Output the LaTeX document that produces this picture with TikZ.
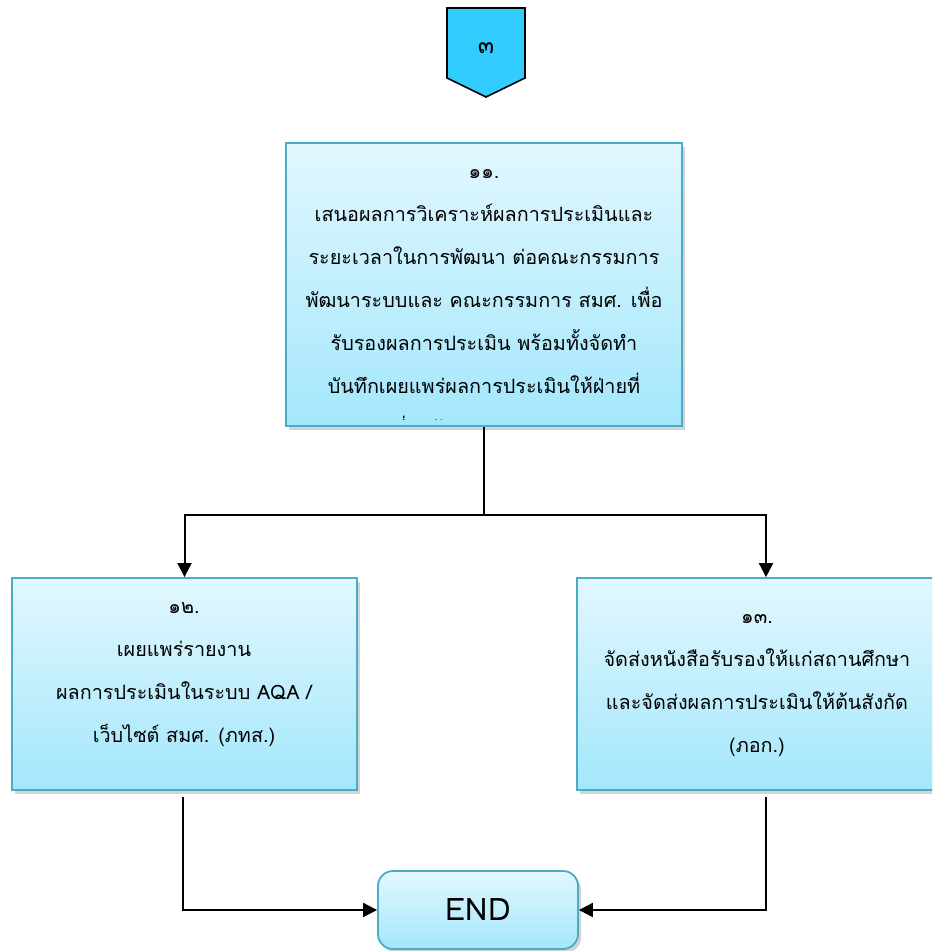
\documentclass[tikz,border=0pt]{standalone}
\usepackage{fontspec}
\setmainfont{Loma}[Script=Thai]
\usepackage{xcolor}
\usepackage{tikz}
\usetikzlibrary{arrows.meta, positioning, shapes.geometric, shadows}

\definecolor{boxtop}{HTML}{E2F7FE}
\definecolor{boxbot}{HTML}{A3E7FC}
\definecolor{boxline}{HTML}{4BACC6}
\definecolor{tagfill}{HTML}{33CCFF}

\begin{document}
\begin{tikzpicture}[
      x=0.5pt, y=-0.5pt,
      box/.style={rectangle, draw=boxline, line width=0.9pt, top color=boxtop, bottom color=boxbot,
                  drop shadow={shadow xshift=1.5pt, shadow yshift=-1.8pt, opacity=0.35},
                  inner sep=0pt},
      box_text/.style={align=center, inner sep=0pt, font=\fontsize{9.9}{21.5}\selectfont},
      arrow/.style={->, >={Triangle[length=7pt, width=7pt]}, line width=1pt},
      line/.style={line width=1pt}
  ]
      \clip (0,0) rectangle (932,951);

      % connector tag (top)
      \draw[fill=tagfill, line width=0.8pt] (447,8) -- (525,8) -- (525,78) -- (486,97) -- (447,78) -- cycle;
      \node[box_text, font=\fontsize{12}{14}\selectfont] (tag) at (486,48) {๓};

      % step 11
      \node[box, minimum width=198pt, minimum height=141.5pt] (b11) at (484,284.5) {};
      \begin{scope}
          \clip (290,147) rectangle (678,419);
          \node[box_text] (t11) at (484,303) {๑๑.\\
              เสนอผลการวิเคราะห์ผลการประเมินและ\\
              ระยะเวลาในการพัฒนา ต่อคณะกรรมการ\\
              พัฒนาระบบและ คณะกรรมการ สมศ. เพื่อ\\
              รับรองผลการประเมิน พร้อมทั้งจัดทำ\\
              บันทึกเผยแพร่ผลการประเมินให้ฝ่ายที่\\
              เกี่ยวข้องดำเนินการต่อ};
      \end{scope}

      % step 12 (left)
      \node[box, minimum width=172.5pt, minimum height=106pt] (b12) at (184.5,684) {};
      \node[box_text] (t12) at (184,675) {๑๒.\\
          เผยแพร่รายงาน\\
          ผลการประเมินในระบบ AQA /\\
          เว็บไซต์ สมศ. (ภทส.)};

      % step 13 (right)
      \node[box, minimum width=189pt, minimum height=106pt] (b13) at (766,684) {};
      \node[box_text] (t13) at (757,686) {๑๓.\\
          จัดส่งหนังสือรับรองให้แก่สถานศึกษา\\
          และจัดส่งผลการประเมินให้ต้นสังกัด\\
          (ภอก.)};

      % end
      \node[box, rounded corners=7.5pt, minimum width=100pt, minimum height=39pt,
            font=\fontsize{15.5}{18}\selectfont] (end) at (478,910) {END};

      % connectors
      \coordinate (split) at (484,515);
      \coordinate (from12) at (183,797);
      \coordinate (from13) at (766,797);
      \draw[line] (b11.south) -- (split);
      \draw[arrow] (split) -| (b12.north);
      \draw[arrow] (split) -| (b13.north);
      \draw[arrow] (from12) |- (end.west);
      \draw[arrow] (from13) |- (end.east);
  \end{tikzpicture}
\end{document}
